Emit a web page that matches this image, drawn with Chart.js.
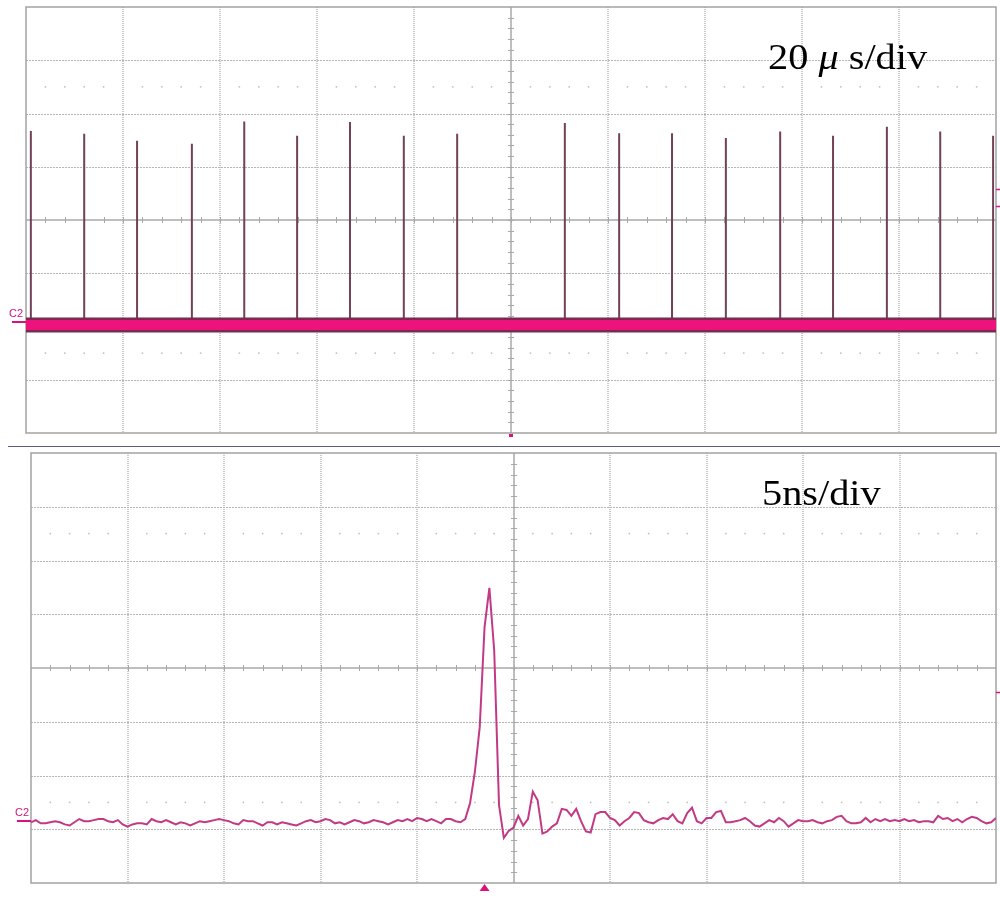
<!DOCTYPE html>
<html>
<head>
<meta charset="utf-8">
<script src="https://cdn.jsdelivr.net/npm/chart.js@4"></script>
<style>
body{margin:0;background:#fff;width:1000px;height:922px;position:relative;overflow:hidden}
canvas{position:absolute;left:0}
#top{top:0}
#bot{top:445px}
.lbl{position:absolute;font-family:"Liberation Serif","Times New Roman",serif;font-size:36px;line-height:36px;color:#000;white-space:nowrap;transform:scaleX(1.12);transform-origin:0 0}
.ch{position:absolute;font-family:"Liberation Sans",Arial,sans-serif;font-size:11px;line-height:11px;color:#d0157a}
#sep{position:absolute;left:8px;top:446px;width:992px;height:1px;background:#5c5c8c}
</style>
</head>
<body>
<canvas id="top" width="1000" height="445"></canvas>
<canvas id="bot" width="1000" height="477"></canvas>
<div id="sep"></div>
<div class="lbl" style="left:768px;top:39px">20 <i>μ</i> s/div</div>
<div class="lbl" style="left:762px;top:475px">5ns/div</div>
<div class="ch" style="left:9px;top:308px">C2</div>
<div class="ch" style="left:15px;top:807px">C2</div>
<script>
// top trace: 20 us/div, values in divisions
var pulseTimes = [-99.0, -88.0, -77.1, -65.8, -55.0, -44.1, -33.2, -22.1, -11.1,
                  11.1, 22.3, 33.2, 44.3, 55.5, 66.4, 77.5, 88.5, 99.4];
var pulseTops = [1.67, 1.62, 1.49, 1.43, 1.85, 1.58, 1.84, 1.58, 1.62,
                 1.82, 1.63, 1.63, 1.54, 1.66, 1.58, 1.75, 1.66, 1.58];
var topBase = -1.97;

// bottom trace: 5 ns/div, one sample every 0.25 ns from -25 ns
var traceT0 = -25, traceDt = 0.25;
var traceVolts = [
  -2.87, -2.83, -2.89, -2.89, -2.87, -2.85, -2.87, -2.91, -2.93, -2.87,
  -2.81, -2.85, -2.85, -2.83, -2.81, -2.81, -2.85, -2.87, -2.83, -2.91,
  -2.95, -2.91, -2.89, -2.89, -2.91, -2.81, -2.85, -2.87, -2.83, -2.87,
  -2.91, -2.87, -2.89, -2.93, -2.89, -2.85, -2.87, -2.85, -2.83, -2.81,
  -2.83, -2.85, -2.89, -2.91, -2.83, -2.85, -2.85, -2.89, -2.93, -2.87,
  -2.87, -2.91, -2.87, -2.89, -2.91, -2.93, -2.89, -2.85, -2.83, -2.87,
  -2.85, -2.81, -2.83, -2.89, -2.87, -2.91, -2.87, -2.83, -2.85, -2.89,
  -2.87, -2.83, -2.85, -2.87, -2.91, -2.87, -2.83, -2.85, -2.81, -2.85,
  -2.79, -2.81, -2.85, -2.81, -2.85, -2.89, -2.81, -2.81, -2.85, -2.87,
  -2.81, -2.51, -1.93, -1.10, 0.76, 1.49, 0.33, -2.55, -3.16, -3.03,
  -2.97, -2.75, -2.93, -2.81, -2.30, -2.46, -3.08, -3.04, -2.95, -2.89,
  -2.62, -2.64, -2.75, -2.62, -2.85, -3.04, -3.06, -2.72, -2.68, -2.68,
  -2.79, -2.83, -2.93, -2.85, -2.79, -2.68, -2.70, -2.83, -2.87, -2.89,
  -2.83, -2.79, -2.81, -2.72, -2.85, -2.89, -2.70, -2.60, -2.85, -2.89,
  -2.79, -2.79, -2.68, -2.66, -2.87, -2.87, -2.85, -2.83, -2.79, -2.85,
  -2.93, -2.95, -2.89, -2.83, -2.87, -2.79, -2.85, -2.95, -2.89, -2.83,
  -2.85, -2.85, -2.83, -2.87, -2.89, -2.85, -2.83, -2.77, -2.75, -2.85,
  -2.89, -2.89, -2.87, -2.79, -2.87, -2.81, -2.85, -2.81, -2.85, -2.83,
  -2.85, -2.81, -2.85, -2.83, -2.87, -2.85, -2.85, -2.87, -2.75, -2.81,
  -2.79, -2.85, -2.81, -2.87, -2.81, -2.77, -2.79, -2.85, -2.89, -2.87,
  -2.79
];

var pink = '#d9137c';

function seg(ctx, x1, y1, x2, y2) {
	ctx.beginPath();
	ctx.moveTo(x1, y1);
	ctx.lineTo(x2, y2);
	ctx.stroke();
}

// oscilloscope graticule
var scopeGrid = {
	id: 'scopeGrid',
	beforeDatasetsDraw: function(chart) {
		var ctx = chart.ctx, a = chart.chartArea, x = chart.scales.x, y = chart.scales.y;
		var dx = (x.max - x.min) / 10;
		var cx = Math.round(x.getPixelForValue((x.min + x.max) / 2));
		var cy = Math.round(y.getPixelForValue(0));
		ctx.save();
		ctx.strokeStyle = '#c8c8c8';
		ctx.lineWidth = 2;
		ctx.setLineDash([1, 1]);
		for (var i = 1; i < 10; i++) {
			if (i == 5) continue;
			var px = Math.round(x.getPixelForValue(x.min + i * dx));
			seg(ctx, px, a.top, px, a.bottom);
		}
		ctx.strokeStyle = '#b6b6b6';
		ctx.lineWidth = 1;
		ctx.setLineDash([2, 1]);
		for (var j = -3; j <= 3; j++) {
			if (j == 0) continue;
			var py = Math.round(y.getPixelForValue(j)) + 0.5;
			seg(ctx, a.left, py, a.right, py);
		}
		ctx.setLineDash([]);
		ctx.fillStyle = '#bcbcbc';
		[-2.5, 2.5].forEach(function(r) {
			var py = y.getPixelForValue(r);
			for (var k = 1; k < 50; k++) {
				if (k % 5 == 0) continue;
				var px = x.getPixelForValue(x.min + k * dx / 5);
				ctx.fillRect(px - 0.75, py - 0.75, 1.5, 1.5);
			}
		});
		ctx.strokeStyle = '#a8a8a8';
		ctx.lineWidth = 1.5;
		seg(ctx, cx, a.top, cx, a.bottom);
		seg(ctx, a.left, cy, a.right, cy);
		ctx.lineWidth = 1;
		for (var k = 1; k < 50; k++) {
			var px = Math.round(x.getPixelForValue(x.min + k * dx / 5)) + 0.5;
			seg(ctx, px, cy - 3, px, cy + 3);
		}
		for (var m = -19; m <= 19; m++) {
			var py = Math.round(y.getPixelForValue(m / 5)) + 0.5;
			seg(ctx, cx - 3, py, cx + 3, py);
		}
		ctx.strokeStyle = '#a2a2a2';
		ctx.lineWidth = 1.5;
		ctx.strokeRect(a.left, a.top, a.width, a.height);
		ctx.restore();
	}
};

// channel / trigger markers round the screen
var scopeMarks = {
	id: 'scopeMarks',
	afterDraw: function(chart, args, o) {
		var ctx = chart.ctx, a = chart.chartArea, x = chart.scales.x, y = chart.scales.y;
		ctx.save();
		ctx.strokeStyle = pink;
		ctx.fillStyle = pink;
		ctx.lineWidth = 2;
		var oy = Math.round(y.getPixelForValue(o.offset));
		seg(ctx, a.left - 14, oy, a.left, oy);
		o.levels.forEach(function(l) {
			var py = Math.round(y.getPixelForValue(l)) + 0.5;
			ctx.lineWidth = 1.5;
			seg(ctx, a.right, py, a.right + 4, py);
		});
		var tx = x.getPixelForValue(o.trigger);
		if (o.triangle) {
			ctx.beginPath();
			ctx.moveTo(tx, a.bottom + 1);
			ctx.lineTo(tx + 5, a.bottom + 8);
			ctx.lineTo(tx - 5, a.bottom + 8);
			ctx.closePath();
			ctx.fill();
		} else {
			ctx.fillRect(tx - 2, a.bottom + 1, 4, 3);
		}
		ctx.restore();
	}
};

function topChart() {
	var ctx = document.getElementById('top').getContext('2d');
	var pulses = [];
	for (var i = 0; i < pulseTimes.length; i++) {
		pulses.push({x: pulseTimes[i], y: topBase});
		pulses.push({x: pulseTimes[i], y: pulseTops[i]});
		pulses.push({x: pulseTimes[i], y: null});
	}
	var band = [{x: -100, y: topBase}, {x: 100, y: topBase}];
	new Chart(ctx, {
		type: 'line',
		data: {
			datasets: [
				{data: band, borderColor: '#ec137d', borderWidth: 10, pointRadius: 0},
				{data: band, borderColor: '#7a2a4e', borderWidth: 15, pointRadius: 0},
				{data: pulses, borderColor: '#714257', borderWidth: 2, pointRadius: 0, spanGaps: false}
			]
		},
		options: {
			responsive: false,
			animation: false,
			layout: {padding: {left: 26, top: 7, right: 4, bottom: 12}},
			plugins: {
				legend: {display: false},
				tooltip: {enabled: false},
				scopeMarks: {offset: -1.92, levels: [0.58, 0.26], trigger: 0, triangle: false}
			},
			scales: {
				x: {type: 'linear', display: false, min: -100, max: 100},
				y: {display: false, min: -4, max: 4}
			}
		},
		plugins: [scopeGrid, scopeMarks]
	});
}

function bottomChart() {
	var ctx = document.getElementById('bot').getContext('2d');
	var pts = traceVolts.map(function(v, i) {
		return {x: traceT0 + i * traceDt, y: v};
	});
	new Chart(ctx, {
		type: 'line',
		data: {
			datasets: [
				{data: pts, borderColor: '#c23a86', borderWidth: 2, pointRadius: 0, tension: 0}
			]
		},
		options: {
			responsive: false,
			animation: false,
			layout: {padding: {left: 31, top: 8, right: 4, bottom: 39}},
			plugins: {
				legend: {display: false},
				tooltip: {enabled: false},
				scopeMarks: {offset: -2.85, levels: [-0.45], trigger: -1.5, triangle: true}
			},
			scales: {
				x: {type: 'linear', display: false, min: -25, max: 25},
				y: {display: false, min: -4, max: 4}
			}
		},
		plugins: [scopeGrid, scopeMarks]
	});
}

topChart();
bottomChart();
</script>
</body>
</html>
